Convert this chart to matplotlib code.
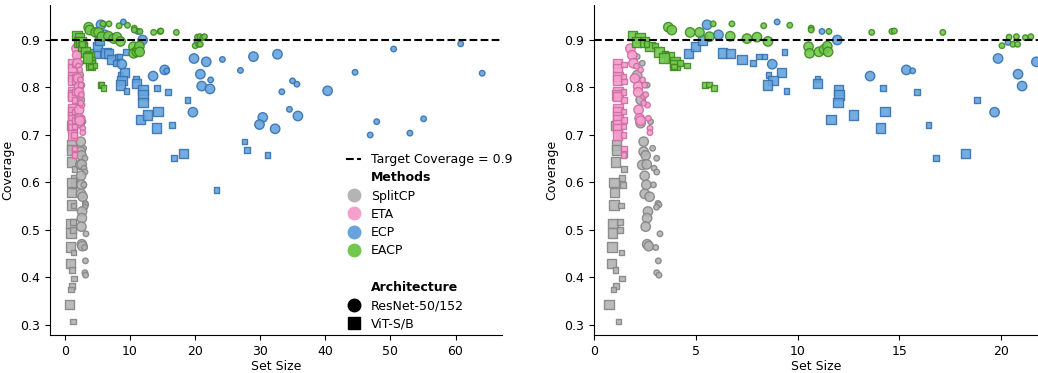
import matplotlib
matplotlib.use("Agg")
import matplotlib.pyplot as plt
from matplotlib.lines import Line2D

# ---------------------------------------------------------------------------
# data: (set size, coverage, big model flag)
# ---------------------------------------------------------------------------
splitcp_vit_x = [1.12, 1.12, 1.07, 1.48, 1.03, 1.44, 1.00, 1.33, 0.95, 1.30, 0.92, 1.28, 0.90,
                 1.36, 0.87, 1.07, 1.38, 1.08, 0.97, 0.74, 1.22, 1.10, 1.25, 1.50, 1.40, 1.00]
splitcp_vit_y = [0.679, 0.668, 0.643, 0.628, 0.579, 0.595, 0.553, 0.552, 0.514, 0.517, 0.494, 0.500,
                 0.464, 0.453, 0.430, 0.416, 0.398, 0.382, 0.375, 0.343, 0.307, 0.720, 0.700, 0.660,
                 0.610, 0.600]
splitcp_vit_big = [1, 1, 1, 0, 1, 0, 1, 0, 1, 0, 1, 0, 1, 0, 1, 0, 0, 0, 0, 1, 0, 1, 0, 0, 0, 1]

splitcp_res_x = [2.13, 2.38, 2.13, 2.62, 2.30, 2.79, 2.30, 2.45, 2.89, 2.45, 2.55, 3.09, 2.38, 2.60,
                 2.96, 3.09, 2.50, 2.58, 2.93, 2.50, 2.74, 3.15, 3.20, 3.08, 2.66, 2.62, 2.55, 3.25,
                 2.62, 2.70, 3.04, 3.17, 3.09, 3.20]
splitcp_res_y = [0.865, 0.851, 0.826, 0.805, 0.774, 0.728, 0.725, 0.686, 0.672, 0.665, 0.657, 0.651,
                 0.637, 0.638, 0.630, 0.622, 0.614, 0.595, 0.595, 0.576, 0.570, 0.556, 0.553, 0.548,
                 0.539, 0.525, 0.507, 0.492, 0.470, 0.466, 0.463, 0.435, 0.410, 0.405]
splitcp_res_big = [0, 0, 1, 0, 1, 0, 1, 1, 0, 1, 1, 0, 1, 1, 0, 0, 1, 1, 0, 1, 1, 0, 0, 0, 1, 1, 1, 0,
                   1, 1, 0, 0, 0, 0]

eta_vit_x = [1.18, 1.16, 1.20, 1.17, 1.19, 1.15, 1.18, 1.20, 1.16, 1.18, 1.19, 1.17, 1.18, 1.16,
             1.48, 1.46, 1.49, 1.47, 1.48, 1.46, 1.49, 1.47, 1.48, 1.47, 1.45]
eta_vit_y = [0.851, 0.840, 0.823, 0.816, 0.791, 0.784, 0.781, 0.756, 0.749, 0.739, 0.732, 0.721,
             0.714, 0.700, 0.848, 0.823, 0.813, 0.791, 0.774, 0.749, 0.732, 0.718, 0.672, 0.658, 0.700]
eta_vit_big = [1, 1, 1, 1, 1, 1, 1, 1, 1, 1, 1, 1, 1, 1, 0, 0, 0, 0, 0, 0, 0, 0, 0, 0, 0]

eta_res_x = [1.80, 1.89, 1.95, 2.10, 2.02, 2.30, 2.40, 2.18, 2.18, 2.50, 2.45, 2.55, 2.20, 2.64,
             2.25, 2.68, 2.76, 2.76, 2.30, 2.45]
eta_res_y = [0.882, 0.868, 0.851, 0.845, 0.819, 0.837, 0.816, 0.802, 0.790, 0.805, 0.781, 0.785,
             0.753, 0.763, 0.735, 0.735, 0.714, 0.705, 0.730, 0.767]
eta_res_big = [1, 1, 1, 0, 1, 0, 0, 1, 1, 0, 0, 0, 1, 0, 1, 0, 0, 0, 1, 0]

ecp_vit_x = [4.65, 5.00, 5.35, 6.32, 6.70, 7.27, 7.82, 8.10, 8.37, 9.36, 8.57, 9.20, 8.80, 8.54,
             9.46, 10.97, 10.97, 12.00, 12.03, 11.99, 11.65, 12.74, 14.08, 14.30, 14.20, 15.85,
             16.42, 16.80, 18.23, 18.82, 23.3, 27.6, 28.0, 31.1]
ecp_vit_y = [0.871, 0.886, 0.900, 0.873, 0.871, 0.859, 0.852, 0.865, 0.865, 0.875, 0.826, 0.831,
             0.815, 0.805, 0.793, 0.818, 0.809, 0.795, 0.784, 0.768, 0.733, 0.742, 0.715, 0.749,
             0.799, 0.791, 0.721, 0.652, 0.661, 0.774, 0.584, 0.686, 0.668, 0.658]
ecp_vit_big = [1, 1, 1, 1, 1, 1, 0, 0, 0, 0, 0, 1, 1, 1, 0, 0, 1, 1, 1, 1, 1, 1, 1, 1, 0, 0, 0, 0,
               1, 0, 0, 0, 0, 0]

ecp_res_x = [5.56, 6.12, 9.00, 11.20, 11.95, 8.76, 13.56, 15.34, 15.65, 19.67, 19.84, 20.33, 20.82,
             21.02, 21.72, 22.4, 22.3, 24.2, 28.97, 32.66, 26.97, 34.97, 35.64, 33.33, 40.36,
             44.57, 50.5, 60.8, 64.1, 34.5, 35.8, 30.4, 29.9, 32.3, 46.9, 47.9, 53.0, 55.1]
ecp_res_y = [0.932, 0.911, 0.938, 0.918, 0.900, 0.849, 0.824, 0.837, 0.835, 0.748, 0.861, 0.895,
             0.828, 0.803, 0.854, 0.816, 0.797, 0.859, 0.865, 0.870, 0.836, 0.814, 0.807, 0.791,
             0.793, 0.832, 0.881, 0.892, 0.830, 0.754, 0.740, 0.737, 0.722, 0.713, 0.700, 0.728,
             0.704, 0.734]
ecp_res_big = [1, 1, 0, 0, 1, 1, 1, 1, 0, 1, 1, 0, 1, 1, 1, 0, 1, 0, 1, 1, 0, 0, 0, 0, 1, 0, 0, 0,
               0, 0, 1, 1, 1, 1, 0, 0, 0, 0]

eacp_vit_x = [1.89, 2.27, 2.10, 2.50, 2.76, 3.00, 3.20, 3.50, 3.70, 3.99, 3.99, 4.24, 4.57, 3.45,
              3.94, 2.60, 5.45, 5.66, 5.91]
eacp_vit_y = [0.910, 0.904, 0.896, 0.896, 0.886, 0.888, 0.875, 0.872, 0.865, 0.854, 0.847, 0.851,
              0.846, 0.862, 0.844, 0.892, 0.805, 0.806, 0.799]
eacp_vit_big = [1, 1, 1, 1, 1, 0, 1, 0, 1, 1, 1, 0, 0, 1, 0, 0, 0, 0, 0]

eacp_res_x = [3.66, 3.83, 4.73, 5.19, 5.86, 5.68, 6.78, 6.70, 7.52, 8.01, 8.55, 8.34, 9.62, 10.67,
              10.67, 11.54, 13.64, 14.63, 14.75, 17.13, 10.54, 10.59, 11.05, 11.30, 11.46, 11.50,
              20.38, 20.74, 20.03, 20.57, 20.80, 21.18, 21.45]
eacp_res_y = [0.927, 0.921, 0.916, 0.916, 0.934, 0.907, 0.934, 0.908, 0.903, 0.906, 0.897, 0.930,
              0.931, 0.925, 0.921, 0.918, 0.916, 0.918, 0.919, 0.916, 0.886, 0.872, 0.875, 0.880,
              0.887, 0.875, 0.906, 0.907, 0.888, 0.891, 0.891, 0.905, 0.907]
eacp_res_big = [1, 1, 1, 1, 0, 1, 0, 1, 1, 1, 1, 0, 0, 0, 0, 0, 0, 0, 0, 0, 1, 1, 1, 1, 1, 1, 0, 0,
                0, 0, 0, 0, 0]

methods = ['SplitCP', 'ETA', 'ECP', 'EACP']
face_colors = {'SplitCP': '#b4b4b4', 'ETA': '#f59fcd', 'ECP': '#67a4de', 'EACP': '#72c84f'}
edge_colors = {'SplitCP': '#858585', 'ETA': '#cf6ca3', 'ECP': '#3572b0', 'EACP': '#3e8a20'}

groups = [
    ('SplitCP', 's', splitcp_vit_x, splitcp_vit_y, splitcp_vit_big),
    ('SplitCP', 'o', splitcp_res_x, splitcp_res_y, splitcp_res_big),
    ('ETA', 's', eta_vit_x, eta_vit_y, eta_vit_big),
    ('ETA', 'o', eta_res_x, eta_res_y, eta_res_big),
    ('ECP', 's', ecp_vit_x, ecp_vit_y, ecp_vit_big),
    ('ECP', 'o', ecp_res_x, ecp_res_y, ecp_res_big),
    ('EACP', 's', eacp_vit_x, eacp_vit_y, eacp_vit_big),
    ('EACP', 'o', eacp_res_x, eacp_res_y, eacp_res_big),
]

target = 0.9


# ---------------------------------------------------------------------------
def draw_panel(ax, xlim, xticks):
    for m, marker, xs, ys, big in groups:
        sizes = [46 if b else 16 for b in big]
        ax.scatter(xs, ys, s=sizes, marker=marker, c=face_colors[m],
                   edgecolors=edge_colors[m], linewidths=1.0, alpha=0.9, zorder=3)
    ax.axhline(target, color='black', linestyle='--', linewidth=1.5, zorder=4)
    ax.set_xlim(xlim)
    ax.set_ylim(0.279, 0.974)
    ax.set_xticks(xticks)
    ax.set_yticks([0.3, 0.4, 0.5, 0.6, 0.7, 0.8, 0.9])
    ax.set_xlabel('Set Size', fontsize=9, labelpad=2)
    ax.set_ylabel('Coverage', fontsize=9)
    ax.tick_params(labelsize=9)
    ax.spines['top'].set_visible(False)
    ax.spines['right'].set_visible(False)


fig = plt.figure(figsize=(10.38, 3.73), dpi=100)
ax1 = fig.add_axes([0.048, 0.102, 0.436, 0.885])
ax2 = fig.add_axes([0.572, 0.102, 0.428, 0.885])

draw_panel(ax1, (-2.3, 67.2), [0, 10, 20, 30, 40, 50, 60])
draw_panel(ax2, (0, 21.8), [0, 5, 10, 15, 20])

# legend built by hand: target line, method colours, architecture markers
blank = Line2D([], [], linestyle='none')
handles = [Line2D([0], [0], color='black', linestyle='--', linewidth=1.5), blank]
labels = ['Target Coverage = 0.9', 'Methods']
for m in methods:
    handles.append(Line2D([0], [0], marker='o', linestyle='none', markersize=9,
                          markerfacecolor=face_colors[m], markeredgecolor=face_colors[m]))
    labels.append(m)
handles += [blank, blank,
            Line2D([0], [0], marker='o', linestyle='none', markersize=9, color='black'),
            Line2D([0], [0], marker='s', linestyle='none', markersize=9, color='black')]
labels += [' ', 'Architecture', 'ResNet-50/152', 'ViT-S/B']

leg = ax1.legend(handles, labels, loc='upper left', bbox_to_anchor=(0.63, 0.585),
                 frameon=False, fontsize=9, handlelength=1.2, labelspacing=0.42)
for t in leg.get_texts():
    if t.get_text() in ('Methods', 'Architecture'):
        t.set_fontweight('bold')

fig.savefig('out.png', dpi=100)
